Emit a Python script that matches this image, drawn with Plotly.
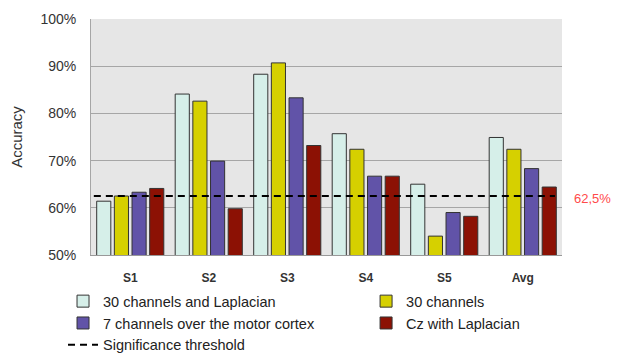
import plotly.graph_objects as go

categories = ["S1", "S2", "S3", "S4", "S5", "Avg"]
lap30 = [61.4, 84.1, 88.3, 75.7, 65.0, 74.9]
ch30 = [62.5, 82.6, 90.7, 72.4, 54.0, 72.4]
motor7 = [63.3, 69.9, 83.3, 66.7, 59.0, 68.3]
cz_lap = [64.1, 59.8, 73.2, 66.7, 58.2, 64.4]
threshold = 62.5
y_ticks = [50, 60, 70, 80, 90, 100]
y_tick_labels = ["50%", "60%", "70%", "80%", "90%", "100%"]

series = [
    ("30 channels and Laplacian", lap30, "#d6efe9", "legend"),
    ("30 channels", ch30, "#d6d000", "legend2"),
    ("7 channels over the motor cortex", motor7, "#6153a8", "legend"),
    ("Cz with Laplacian", cz_lap, "#8c1104", "legend2"),
]

FONT = "Liberation Sans"
fig = go.Figure()
for name, vals, col, lg in series:
    fig.add_trace(go.Bar(
        x=categories, y=vals, name=name, legend=lg,
        marker=dict(color=col, line=dict(color="#333333", width=1)),
    ))

# legend entry for threshold line
fig.add_trace(go.Scatter(
    x=[None], y=[None], mode="lines", name="Significance threshold", legend="legend",
    line=dict(color="black", width=2, dash="7px,5px"),
))

fig.add_shape(type="line", xref="x domain", yref="y", x0=0.006, x1=0.985,
              y0=threshold, y1=threshold,
              line=dict(color="black", width=2, dash="7px,5px"))

fig.add_annotation(xref="paper", yref="y", x=1.022, y=threshold, xanchor="left",
                   yanchor="middle", text="62,5%", showarrow=False, yshift=-2,
                   font=dict(family=FONT, size=13, color="#ff4a4a"))

fig.update_layout(
    width=611, height=346,
    margin=dict(l=83, r=57, t=11, b=99, autoexpand=False),
    paper_bgcolor="white", plot_bgcolor="#e6e6e6",
    font=dict(family=FONT, size=14, color="#333333"),
    barmode="group", bargap=0.10, bargroupgap=0.2,
    showlegend=True,
    legend=dict(orientation="v", x=-0.0594, y=-0.128, xanchor="left", yanchor="top",
                bgcolor="rgba(0,0,0,0)", font=dict(family=FONT, size=14.5, color="#222222"),
                traceorder="normal"),
    legend2=dict(orientation="v", x=0.584, y=-0.128, xanchor="left", yanchor="top",
                 bgcolor="rgba(0,0,0,0)", font=dict(family=FONT, size=14.5, color="#222222"),
                 traceorder="normal"),
)
fig.update_xaxes(showgrid=False, showline=True, linecolor="#999999", linewidth=1,
                 ticks="", ticklabelstandoff=12,
                 tickfont=dict(family=FONT, size=12, color="#333333", weight="bold"))
fig.update_yaxes(range=[50, 100], tickvals=y_ticks, ticktext=y_tick_labels,
                 showgrid=True, gridcolor="#a6a6a6", gridwidth=1,
                 showline=True, linecolor="#a6a6a6", linewidth=1, zeroline=False,
                 ticks="", ticklabelstandoff=11,
                 tickfont=dict(family=FONT, size=14, color="#333333"),
                 title=dict(text="Accuracy", standoff=15,
                            font=dict(family=FONT, size=15, color="#333333")))

fig.write_html("out.html")
